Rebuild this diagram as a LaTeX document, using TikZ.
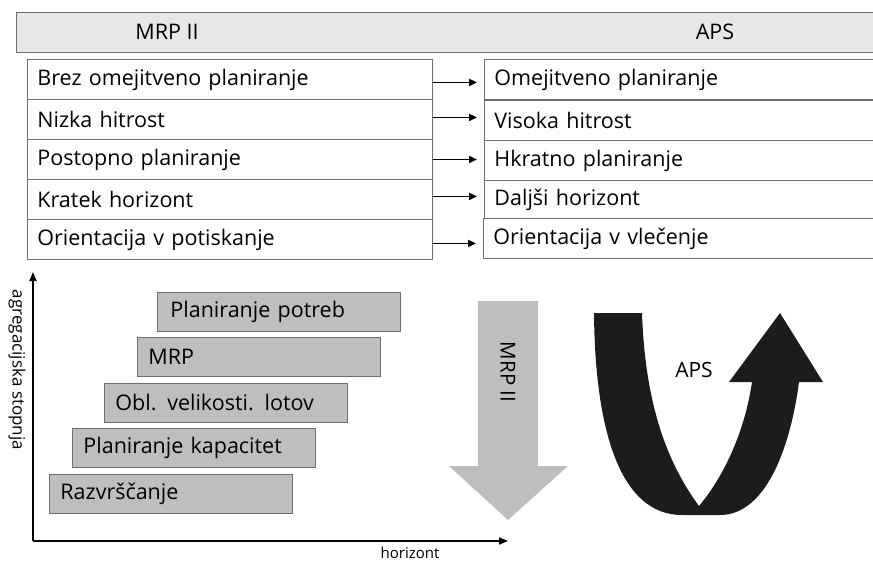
\documentclass[tikz,border=0pt]{standalone}
\usepackage{fontspec}
\setmainfont{Open Sans}
\usetikzlibrary{arrows.meta}

\definecolor{hdrgrey}{HTML}{E6E7E8}
\definecolor{boxgrey}{HTML}{BCBEC0}
\definecolor{edgegrey}{HTML}{6D6E71}
\definecolor{apsblack}{HTML}{1C1B1D}

\tikzset{
  rowbox/.style={draw=edgegrey, fill=white, line width=0.9pt, anchor=north west,
    minimum height=40pt, inner xsep=10pt, inner ysep=0pt, align=left,
    font=\fontsize{21.5}{24}\selectfont},
  layerbox/.style={draw=edgegrey, fill=boxgrey, line width=0.9pt, anchor=north west,
    minimum height=39pt, inner xsep=11pt, inner ysep=0pt, align=left,
    text width=221pt, font=\fontsize{21.5}{24}\selectfont},
  link/.style={line width=1.8pt, -{Triangle[length=8pt,width=7pt]}, shorten >=7pt},
  axis/.style={line width=1.8pt, -{Triangle[length=9pt,width=7pt]}}
}

\begin{document}
\begin{tikzpicture}[x=1pt, y=-1pt]
  \useasboundingbox (0,0) rectangle (873,563);

  % header bar
  \draw[draw=edgegrey, fill=hdrgrey, line width=0.9pt] (16,12) rectangle (880,52);
  \node[font=\fontsize{21.5}{24}\selectfont] (hmrp) at (167,32) {MRP II};
  \node[font=\fontsize{21.5}{24}\selectfont] (haps) at (715,32) {APS};

  % MRP II side
  \node[rowbox, text width=385pt] (l1) at (27,59)  {Brez omejitveno planiranje};
  \node[rowbox, text width=385pt] (l2) at (27,99)  {Nizka hitrost};
  \node[rowbox, text width=385pt] (l3) at (27,139) {Postopno planiranje};
  \node[rowbox, text width=385pt] (l4) at (27,179) {Kratek horizont};
  \node[rowbox, text width=385pt] (l5) at (27,219) {Orientacija v potiskanje};

  % APS side
  \node[rowbox, text width=375pt] (r1) at (484,59)  {Omejitveno planiranje};
  \node[rowbox, text width=375pt] (r2) at (484,100) {Visoka hitrost};
  \node[rowbox, text width=375pt] (r3) at (484,140) {Hkratno planiranje};
  \node[rowbox, text width=375pt, minimum height=38pt] (r4) at (484,180) {Daljši horizont};
  \node[rowbox, text width=376pt] (r5) at (483,218) {Orientacija v vlečenje};

  \foreach \i/\dy in {1/-3,2/2,3/0,4/3,5/-4}
    \draw[link] ([yshift=\dy pt]l\i.east) -- ([yshift=\dy pt]l\i.east -| r\i.west);

  % axes
  \coordinate (origin) at (33,541);
  \coordinate (ytop) at (33,272);
  \coordinate (xend) at (508,541);
  \draw[axis] (origin) -- (ytop);
  \draw[axis] (origin) -- (xend);
  \node[font=\fontsize{15}{18}\selectfont] (xlab) at (410,553) {horizont};
  \node[font=\fontsize{17}{18}\selectfont, rotate=-90] (ylab) at (17,370) {agregacijska stopnja};

  % planning levels
  \node[layerbox, text width=217pt, inner xsep=13pt] (lv1) at (157,292) {Planiranje potreb};
  \node[layerbox] (lv2) at (137,337) {MRP};
  \node[layerbox] (lv3) at (104,383) {Obl. velikosti. lotov};
  \node[layerbox] (lv4) at (72,428)  {Planiranje kapacitet};
  \node[layerbox] (lv5) at (49,474)  {Razvrščanje};

  % MRP II top-down arrow
  \fill[boxgrey] (478,301) -- (538,301) -- (538,466) -- (568,466) -- (508,520)
                 -- (449,466) -- (478,466) -- cycle;
  \node[font=\fontsize{20.5}{22}\selectfont, rotate=-90] (mrp) at (508,372) {MRP II};

  % APS loop arrow
  \fill[apsblack] (594,313) .. controls (595,430) and (620,515) .. (682,515)
                  -- (720,515) .. controls (765,515) and (790,450) .. (799,382)
                  -- (823,382) -- (780,313) -- (729,382) -- (752,382)
                  .. controls (745,430) and (725,475) .. (699,506)
                  .. controls (665,460) and (645,400) .. (642,313) -- cycle;
  \node[font=\fontsize{21}{22}\selectfont] (aps) at (694,370) {APS};
\end{tikzpicture}
\end{document}
